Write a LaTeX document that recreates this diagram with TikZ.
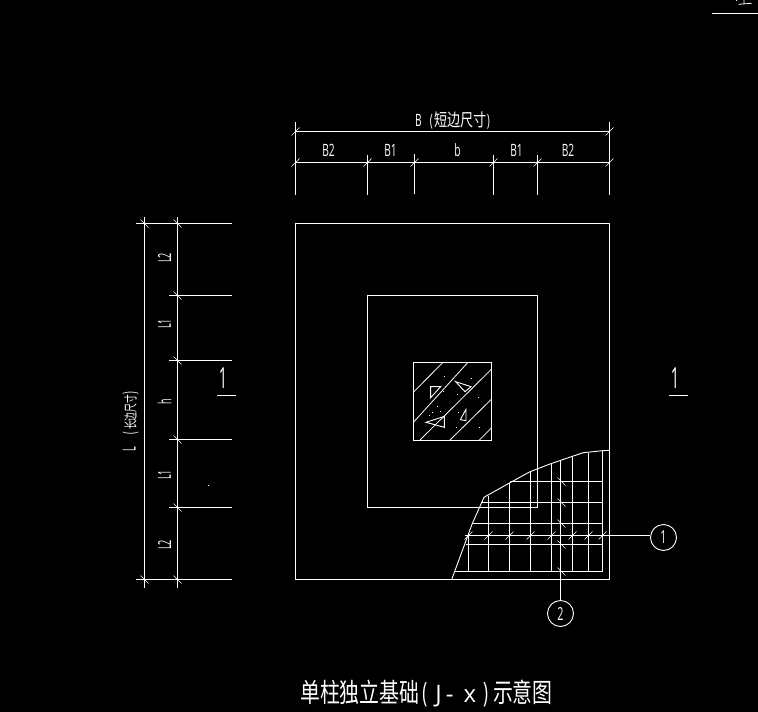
\documentclass[tikz,border=0pt]{standalone}
\usepackage{fontspec}
\setmainfont{Open Sans}
\newfontfamily\dimfont[FakeStretch=0.6]{Open Sans}
\newfontfamily\sidefont[FakeStretch=0.5]{Open Sans}
\newfontfamily\secfont[FakeStretch=0.5]{Open Sans}
\newfontfamily\cjkfont[FakeStretch=0.75]{Noto Sans CJK SC}
\newfontfamily\cjknarrow[FakeStretch=0.65]{Noto Sans CJK SC}
\newcommand{\tickF}[2]{\draw[tickline] (#1-4,#2+4) -- (#1+4,#2-4);}
\newcommand{\tickB}[2]{\draw[tickline] (#1-4,#2-4) -- (#1+4,#2+4);}
\tikzset{
  cad/.style={draw=white,line width=1pt},
  tickline/.style={draw=white,line width=0.6pt},
  dimtext/.style={text=white,inner sep=0pt,font=\dimfont\fontsize{17}{17}\selectfont},
  sidetext/.style={text=white,inner sep=0pt,rotate=90,font=\sidefont\fontsize{18}{18}\selectfont},
  balloon/.style={circle,draw=white,line width=0.9pt,minimum size=26pt,inner sep=0pt,text=white,font=\dimfont\fontsize{18}{18}\selectfont},
  seclabel/.style={text=white,inner sep=0pt,font=\secfont\fontsize{29}{29}\selectfont},
}
\begin{document}
\begin{tikzpicture}[x=1pt,y=-1pt]
\fill[black] (0,0) rectangle (758,712);
\useasboundingbox (0,0) rectangle (758,712);

% top dimensions
\draw[cad] (295.5,131.5) -- (609.5,131.5);
\draw[cad] (295.5,162.5) -- (609.5,162.5);
\draw[cad] (295.5,122) -- (295.5,195);
\draw[cad] (609.5,122) -- (609.5,195);
\draw[cad] (367.5,155) -- (367.5,195);
\draw[cad] (414.5,154) -- (414.5,194);
\draw[cad] (493.5,155) -- (493.5,195);
\draw[cad] (537.5,155) -- (537.5,195);
\tickF{295.5}{131.5}\tickF{609.5}{131.5}
\foreach \x in {295.5,367.5,414.5,493.5,537.5,609.5}{\tickF{\x}{162.5}}
\node[dimtext] (tb2a) at (328.5,150.5) {B2};
\node[dimtext] (tb1a) at (390.5,150.5) {B1};
\node[dimtext] (tb) at (457.5,150.5) {b};
\node[dimtext] (tb1b) at (516.5,150.5) {B1};
\node[dimtext] (tb2b) at (568,150.5) {B2};
\node[dimtext,anchor=west] (tB) at (415,120) {B\kern 8pt(\kern 1.5pt{\cjkfont\fontsize{17.5}{17.5}\selectfont 短边尺寸})};

% left dimensions
\draw[cad] (144.5,216.7) -- (144.5,588);
\draw[cad] (177.5,216.7) -- (177.5,588);
\draw[cad] (136,223.5) -- (231.7,223.5);
\draw[cad] (169,295.5) -- (231.7,295.5);
\draw[cad] (169,360.5) -- (231.7,360.5);
\draw[cad] (169,439.5) -- (231.7,439.5);
\draw[cad] (169,507.5) -- (231.7,507.5);
\draw[cad] (136,579.5) -- (231.7,579.5);
\tickB{144.5}{223.5}\tickB{144.5}{579.5}
\foreach \y in {223.5,295.5,360.5,439.5,507.5,579.5}{\tickB{177.5}{\y}}
\node[sidetext] (l2a) at (164.5,258) {L2};
\node[sidetext] (l1a) at (164.5,324) {L1};
\node[sidetext] (lh) at (164.5,402) {h};
\node[sidetext] (l1b) at (164.5,475) {L1};
\node[sidetext] (l2b) at (164.5,545) {L2};
\node[sidetext,anchor=west] (tL) at (130.5,452) {L\kern 13pt(\kern 1.5pt{\cjknarrow\fontsize{13.5}{13.5}\selectfont 长边尺寸})};

% plan outlines
\draw[cad] (295.5,223.5) rectangle (609.5,579.5);
\draw[cad] (367.5,295.5) rectangle (537.5,507.5);
\draw[cad] (413.5,362.5) rectangle (491.5,440.5);

% column hatching
\begin{scope}[shift={(400,350)},x=0.3333pt,y=-0.3333pt]
\draw[tickline,line width=0.8pt] (42,125) -- (128,38) (42,215) -- (203,38) (60,270) -- (275,57) (150,270) -- (275,147) (238,270) -- (275,233);
\draw[tickline,line width=0.9pt] (92,110) -- (122,110) -- (92,143) -- cycle;
\draw[tickline,line width=0.9pt] (167,95) -- (213,110) -- (195,125) -- cycle;
\draw[tickline,line width=0.9pt] (198,178) -- (198,212) -- (181,209) -- cycle;
\draw[tickline,line width=0.9pt] (78,217) -- (133,199) -- (133,232) -- cycle;
\foreach \a/\b in {133/79,215/85,131/124,172/133,236/144,112/169,97/188,121/186,175/187,88/198,171/232,240/232}{
  \fill[white] (\a-1.5,\b-1.5) rectangle (\a+1.5,\b+1.5);}
\end{scope}

% foundation cut-away boundary
\draw[cad,line width=0.9pt] (451.7,579.5) -- (472.3,523.5) -- (481.7,502.5) -- (484,497.3) -- (488,495) -- (510,482.7) -- (530,471.7) -- (550,464) -- (573.3,456) -- (583.3,452.7) -- (602.3,450.7) -- (609.5,450.3);

% reinforcement grid
\draw[cad] (510,481.5) -- (602.5,481.5);
\draw[cad] (481.7,502.5) -- (602.5,502.5);
\draw[cad] (472.3,523.5) -- (602.5,523.5);
\draw[cad] (465.7,544.5) -- (602.5,544.5);
\draw[cad] (455.3,571.5) -- (602.5,571.5);
\draw[cad] (468.5,533) -- (468.5,571.5);
\draw[cad] (488.5,496) -- (488.5,571.5);
\draw[cad] (509.5,482.7) -- (509.5,571.5);
\draw[cad] (530.5,471.7) -- (530.5,571.5);
\draw[cad] (551.5,464) -- (551.5,571.5);
\draw[cad] (572.5,456.7) -- (572.5,571.5);
\draw[cad] (588.5,452.7) -- (588.5,571.5);
\draw[cad] (602.5,450.7) -- (602.5,571.5);

% balloons and leaders
\node[balloon] (b1) at (663.5,537.5) {1};
\node[balloon] (b2) at (560.5,613.5) {2};
\coordinate (lead1) at (465,535.5);
\coordinate (lead2) at (560.5,461);
\draw[cad] (lead1) -- (lead1 -| b1.west);
\draw[cad] (lead2) -- (b2.north);
\foreach \x in {468.5,488.5,509.5,530.5,551.5,572.5,588.5,602.5}{\tickF{\x}{535.5}}
\foreach \y in {481.5,502.5,523.5,544.5,571.5}{\tickB{561.5}{\y}}

% section marks
\node[seclabel] (s1) at (223,378) {1};
\draw[cad] (217,395.5) -- (236,395.5);
\node[seclabel] (s2) at (675,378) {1};
\draw[cad] (669,395.5) -- (688,395.5);

% stray marks
\fill[white] (208,485) rectangle (209,486);
\draw[cad] (712,13.5) -- (758,13.5);
\draw[cad,line width=0.8pt] (738.3,4.3) -- (751.7,3.3) (744,0) -- (744,3.5) (736,0) -- (737,0.8);

% title
\node[text=white,inner sep=0pt,anchor=west,font=\cjkfont\fontsize{26.5}{26.5}\selectfont] (title) at (300,693) {单柱独立基础\kern 3pt{\dimfont\fontsize{28}{28}\selectfont(}\kern 8pt{\rmfamily\fontsize{24}{24}\selectfont J\kern 4pt-\kern 10pt x\kern 7pt}{\dimfont\fontsize{28}{28}\selectfont)}\kern 5pt 示意图};
\end{tikzpicture}
\end{document}
